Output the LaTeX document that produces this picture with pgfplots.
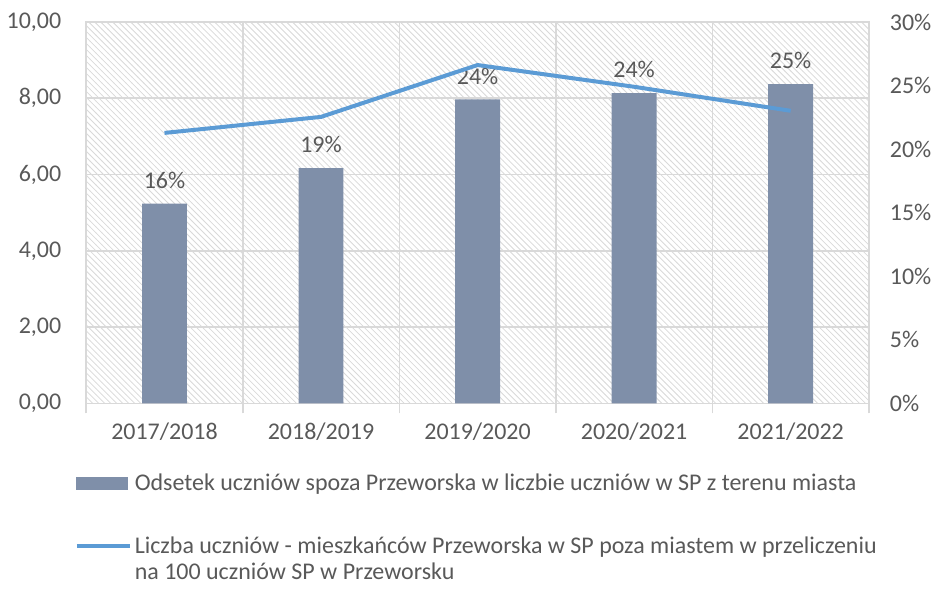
\documentclass[border=0pt]{standalone}
\usepackage{fontspec}
\setmainfont{Carlito}
\usepackage{pgfplots}
\pgfplotsset{compat=1.18}
\usetikzlibrary{patterns}
\definecolor{txt}{HTML}{595959}
\definecolor{barc}{HTML}{7F8FA9}
\definecolor{linec}{HTML}{5B9BD5}
\definecolor{gridc}{HTML}{D9D9D9}
\begin{document}
\begin{tikzpicture}[font=\fontsize{12}{13}\selectfont]
\begin{axis}[
  scale only axis, width=392pt, height=191pt,
  xmin=-0.5, xmax=4.5, ymin=0, ymax=30,
  axis line style={gridc, line width=0.8pt},
  ytick={0,5,...,30}, ytick pos=right,
  yticklabel={\pgfmathprintnumber{\tick}\%},
  yticklabel style={text=txt, xshift=7pt},
  y tick style={draw=none},
  extra y ticks={0,6,12,18,24,30},
  extra y tick labels={},
  extra y tick style={ymajorgrids=true, tick style={draw=none}},
  grid style={gridc, line width=0.8pt},
  xtick={0,...,4},
  xticklabels={2017/2018,2018/2019,2019/2020,2020/2021,2021/2022},
  xtick pos=bottom,
  x tick style={draw=none},
  minor xtick={-0.5,0.5,...,4.5},
  xminorgrids, minor x grid style={gridc, line width=0.8pt},
  minor x tick style={draw=gridc, line width=0.8pt},
  tick align=outside, minor tick length=5pt, major tick length=0pt,
  xticklabel style={text=txt, yshift=-6.5pt},
  /pgf/number format/assume math mode=true,
  axis background/.style={pattern=north west lines, pattern color=gridc},
  ybar, bar width=22.5pt,
  nodes near coords={\pgfmathprintnumber[fixed,precision=0]{\pgfplotspointmeta}\%},
  every node near coord/.append style={text=txt, yshift=4pt},
  clip=false,
]
\addplot[fill=barc, draw=none] coordinates {(0,15.7) (1,18.5) (2,23.9) (3,24.4) (4,25.1)};
\end{axis}
\begin{axis}[
  scale only axis, width=392pt, height=191pt,
  xmin=-0.5, xmax=4.5, ymin=0, ymax=10,
  axis line style={draw=none},
  xtick=\empty,
  ytick={0,2,...,10}, ytick pos=left,
  y tick style={draw=none}, major tick length=0pt,
  yticklabel style={text=txt, xshift=-9pt,
    /pgf/number format/.cd, fixed, fixed zerofill, precision=2, use comma, assume math mode=true},
  legend style={at={(axis description cs:-0.015,-0.175)}, anchor=north west,
    draw=none, fill=none, row sep=18pt, inner sep=0pt,
    nodes={inner sep=1.5pt, text=txt}},
  legend cell align=left,
]
\addlegendimage{legend image code/.code={\fill[barc] (0pt,-3pt) rectangle (25.5pt,3pt);}}
\addlegendentry{Odsetek uczniów spoza Przeworska w liczbie uczniów w SP z terenu miasta}
\addplot[linec, line width=2pt, mark=none,
  legend image code/.code={\draw[linec, line width=2pt] (0pt,0pt) -- (26.5pt,0pt);}]
  coordinates {(0,7.09) (1,7.51) (2,8.87) (3,8.30) (4,7.67)};
\addlegendentry{\begin{tabular}[t]{@{}l@{}}Liczba uczniów - mieszkańców Przeworska w SP poza miastem w przeliczeniu\\na 100 uczniów SP w Przeworsku\end{tabular}}
\end{axis}
\path ([yshift=3pt]current bounding box.north);
\path ([yshift=-16.5pt]current bounding box.south);
\end{tikzpicture}
\end{document}
